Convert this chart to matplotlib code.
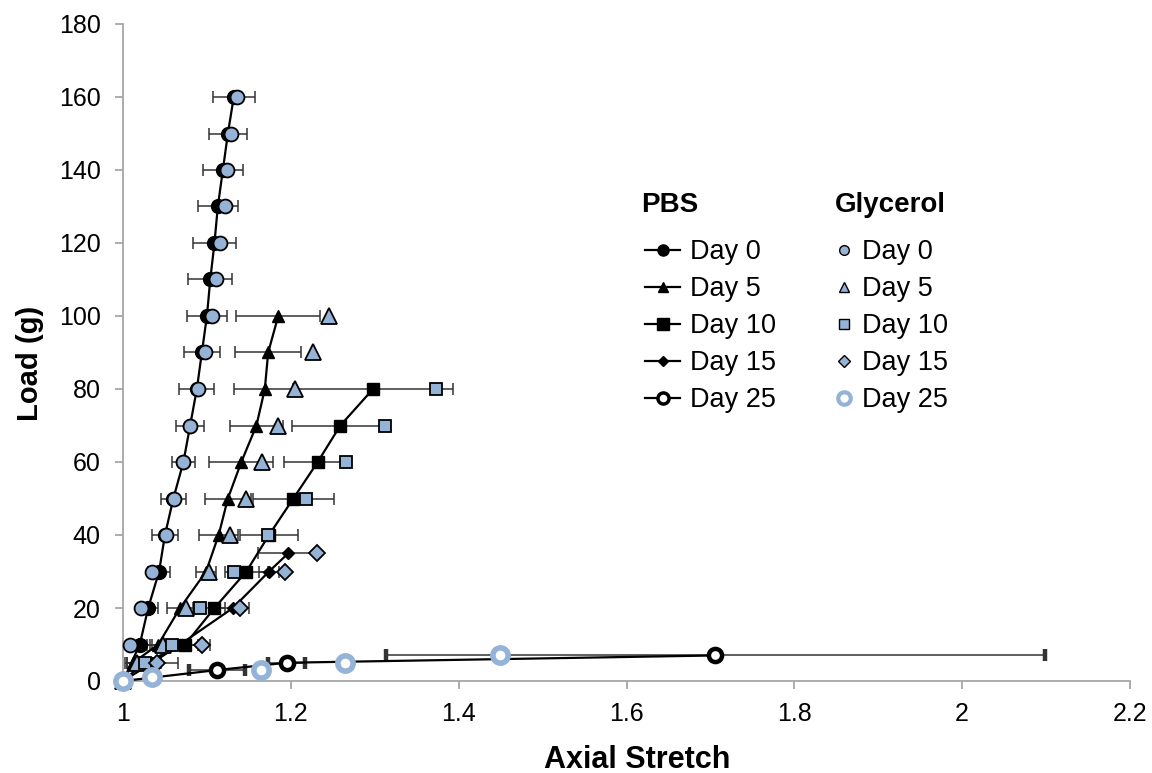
import matplotlib
matplotlib.use("Agg")
import matplotlib.pyplot as plt
from matplotlib.lines import Line2D
from matplotlib.ticker import FuncFormatter

plt.rcParams['font.family'] = ['Liberation Sans', 'DejaVu Sans']

BLUE = '#95b3d7'

# ---- data ----
pbs_d0_y = [0, 10, 20, 30, 40, 50, 60, 70, 80, 90, 100, 110, 120, 130, 140, 150, 160]
pbs_d0_x = [1.0, 1.020, 1.030, 1.043, 1.050, 1.060, 1.072, 1.080, 1.088, 1.094, 1.100,
            1.104, 1.109, 1.113, 1.119, 1.125, 1.132]
pbs_d0_err = [0, 0.014, 0.012, 0.013, 0.015, 0.015, 0.014, 0.017, 0.021, 0.021, 0.024,
              0.026, 0.026, 0.024, 0.024, 0.023, 0.025]
gly_d0_x = [1.0, 1.008, 1.022, 1.035, 1.051, 1.061, 1.071, 1.080, 1.089, 1.098, 1.106,
            1.111, 1.116, 1.121, 1.124, 1.129, 1.136]

d5_y = [0, 5, 10, 20, 30, 40, 50, 60, 70, 80, 90, 100]
pbs_d5_x = [1.0, 1.012, 1.042, 1.068, 1.099, 1.114, 1.125, 1.141, 1.159, 1.169, 1.173, 1.185]
pbs_d5_err = [0, 0.010, 0.013, 0.015, 0.012, 0.023, 0.027, 0.038, 0.032, 0.037, 0.039, 0.050]
gly_d5_x = [1.0, 1.017, 1.048, 1.075, 1.103, 1.127, 1.147, 1.166, 1.185, 1.205, 1.226, 1.246]

d10_y = [0, 5, 10, 20, 30, 40, 50, 60, 70, 80]
pbs_d10_x = [1.0, 1.025, 1.074, 1.109, 1.147, 1.174, 1.203, 1.232, 1.259, 1.298]
pbs_d10_err = [0, 0.020, 0.015, 0.012, 0.026, 0.035, 0.048, 0.040, 0.058, 0.095]
gly_d10_x = [1.0, 1.026, 1.058, 1.092, 1.132, 1.173, 1.218, 1.266, 1.312, 1.373]

d15_y = [0, 5, 10, 20, 30, 35]
pbs_d15_x = [1.0, 1.035, 1.068, 1.131, 1.174, 1.197]
pbs_d15_err = [0, 0.030, 0.036, 0.019, 0.012, 0.036]
gly_d15_x = [1.0, 1.040, 1.094, 1.139, 1.193, 1.231]

pbs_d25_y = [0, 3, 5, 7]
pbs_d25_x = [1.0, 1.112, 1.195, 1.706]
pbs_d25_err = [0, 0.033, 0.022, 0.393]
gly_d25_y = [0, 1, 3, 5, 7]
gly_d25_x = [1.0, 1.035, 1.164, 1.265, 1.449]

day_labels = ['Day 0', 'Day 5', 'Day 10', 'Day 15', 'Day 25']

fig = plt.figure(figsize=(11.52, 7.73), dpi=100)
ax = fig.add_axes([123 / 1152, 1 - 681 / 773, (1130 - 123) / 1152, (681 - 24) / 773])

# PBS series: black, connected, with error bars
pbs = [
    (pbs_d0_x, pbs_d0_y, pbs_d0_err, dict(marker='o', ms=10, mfc='black', mec='black')),
    (pbs_d5_x, d5_y, pbs_d5_err, dict(marker='^', ms=9, mfc='black', mec='black')),
    (pbs_d10_x, d10_y, pbs_d10_err, dict(marker='s', ms=9, mfc='black', mec='black')),
    (pbs_d15_x, d15_y, pbs_d15_err, dict(marker='D', ms=6.5, mfc='black', mec='black')),
    (pbs_d25_x, pbs_d25_y, pbs_d25_err, dict(marker='o', ms=9.5, mfc='white', mec='black', mew=3.2)),
]
for x, y, err, style in pbs:
    ax.errorbar(x, y, xerr=err, color='black', lw=1.6, ecolor='#333333', elinewidth=1.1,
                capsize=4.5, capthick=1.1, clip_on=False, zorder=3, **style)

# Glycerol series: blue markers, no line
gly = [
    (gly_d0_x, pbs_d0_y, dict(marker='o', ms=10, mfc=BLUE, mec='black', mew=1.3)),
    (gly_d5_x, d5_y, dict(marker='^', ms=11, mfc=BLUE, mec='black', mew=1.3)),
    (gly_d10_x, d10_y, dict(marker='s', ms=8, mfc=BLUE, mec='black', mew=1.3)),
    (gly_d15_x, d15_y, dict(marker='D', ms=8, mfc=BLUE, mec='black', mew=1.3)),
    (gly_d25_x, gly_d25_y, dict(marker='o', ms=11, mfc='white', mec=BLUE, mew=4)),
]
for x, y, style in gly:
    ax.plot(x, y, ls='none', clip_on=False, zorder=4, **style)

ax.set_xlim(1, 2.2)
ax.set_ylim(0, 180)
ax.set_xticks([1, 1.2, 1.4, 1.6, 1.8, 2, 2.2])
ax.set_yticks(range(0, 181, 20))
ax.xaxis.set_major_formatter(FuncFormatter(lambda v, p: f'{v:g}'))
for s in ['top', 'right']:
    ax.spines[s].set_visible(False)
for s in ['left', 'bottom']:
    ax.spines[s].set_color('#a6a6a6')
    ax.spines[s].set_linewidth(1.3)
ax.tick_params(colors='#a6a6a6', labelcolor='black', labelsize=18, length=6, width=1.3)
ax.tick_params(axis='x', pad=9)
ax.tick_params(axis='y', pad=10)

# axis titles placed in figure pixels to match the reference
fig.text(637 / 1152, 1 - 760 / 773, 'Axial Stretch', fontsize=22, fontweight='bold',
         ha='center', va='center')
fig.text(30 / 1152, 1 - 363 / 773, 'Load (g)', fontsize=21, fontweight='bold',
         ha='center', va='center', rotation=90)

# legends
pbs_handles = [
    Line2D([], [], color='black', lw=1.6, marker='o', ms=8, mfc='black', mec='black'),
    Line2D([], [], color='black', lw=1.6, marker='^', ms=7, mfc='black', mec='black'),
    Line2D([], [], color='black', lw=1.6, marker='s', ms=8, mfc='black', mec='black'),
    Line2D([], [], color='black', lw=1.6, marker='D', ms=5, mfc='black', mec='black'),
    Line2D([], [], color='black', lw=1.6, marker='o', ms=8, mfc='white', mec='black', mew=2.5),
]
gly_handles = [
    Line2D([], [], ls='none', marker='o', ms=7, mfc=BLUE, mec='black', mew=1),
    Line2D([], [], ls='none', marker='^', ms=7, mfc=BLUE, mec='black', mew=1),
    Line2D([], [], ls='none', marker='s', ms=7, mfc=BLUE, mec='black', mew=1),
    Line2D([], [], ls='none', marker='D', ms=6, mfc=BLUE, mec='black', mew=1),
    Line2D([], [], ls='none', marker='o', ms=9, mfc='white', mec=BLUE, mew=3),
]
fig.legend(pbs_handles, day_labels, loc='upper left', frameon=False, fontsize=19.5,
           bbox_to_anchor=(645 / 1152, 1 - 239 / 773), borderpad=0, borderaxespad=0,
           handlelength=1.3, handletextpad=0.37, labelspacing=0.41)
fig.legend(gly_handles, day_labels, loc='upper left', frameon=False, fontsize=19.5,
           bbox_to_anchor=(835 / 1152, 1 - 239 / 773), borderpad=0, borderaxespad=0,
           handlelength=0.7, handletextpad=0.3, labelspacing=0.41)
fig.text(641 / 1152, 1 - 205 / 773, 'PBS', fontsize=20, fontweight='bold', va='center')
fig.text(835 / 1152, 1 - 205 / 773, 'Glycerol', fontsize=20, fontweight='bold', va='center')

fig.savefig('out.png', dpi=100)
